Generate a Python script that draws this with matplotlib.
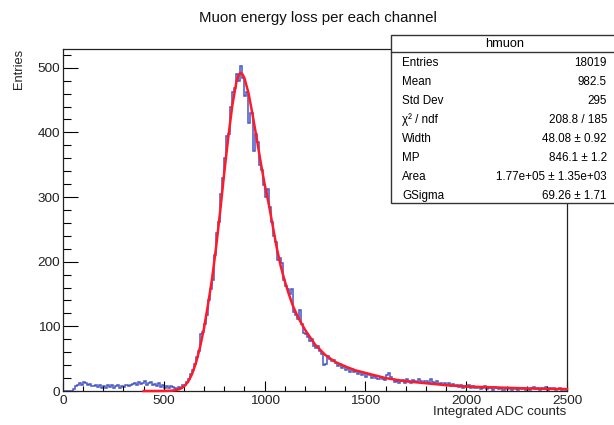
import numpy as np
import matplotlib
matplotlib.use("Agg")
import matplotlib.pyplot as plt
from matplotlib.patches import Rectangle
from matplotlib.lines import Line2D

plt.rcParams['font.family'] = ['Liberation Sans', 'DejaVu Sans']

# ---------------- data ----------------
x_min, x_max, bin_width = 0, 2500, 10
counts = [
    # 0 - 500
    0, 0, 0, 0, 0, 3, 8, 10, 12, 9,
    14, 12, 9, 11, 8, 7, 10, 6, 9, 5,
    8, 4, 9, 6, 10, 5, 7, 9, 4, 8,
    6, 10, 7, 9, 11, 12, 9, 14, 11, 13,
    15, 10, 12, 14, 9, 11, 7, 13, 6, 9,
    # 500 - 1000
    5, 8, 4, 7, 6, 4, 3, 6, 5, 9,
    10, 14, 19, 26, 33, 42, 52, 62, 88, 92,
    104, 118, 140, 158, 172, 210, 244, 262, 305, 330,
    360, 395, 398, 440, 462, 468, 490, 480, 503, 484,
    456, 462, 415, 430, 372, 398, 385, 350, 342, 318,
    # 1000 - 1500
    300, 312, 285, 262, 240, 230, 202, 205, 198, 172,
    162, 158, 150, 158, 122, 118, 112, 125, 104, 90,
    88, 84, 78, 80, 70, 66, 70, 62, 58, 40,
    42, 54, 50, 46, 48, 44, 38, 42, 36, 39,
    33, 36, 30, 34, 29, 31, 26, 30, 25, 28,
    # 1500 - 2000
    22, 27, 24, 20, 23, 20, 18, 22, 19, 17,
    25, 28, 22, 18, 14, 16, 12, 15, 17, 13,
    18, 16, 13, 17, 15, 14, 19, 15, 12, 16,
    15, 13, 18, 14, 12, 16, 11, 13, 9, 12,
    10, 12, 8, 11, 7, 9, 6, 10, 5, 8,
    # 2000 - 2500
    6, 9, 4, 7, 5, 4, 6, 3, 5, 7,
    3, 5, 4, 2, 6, 4, 3, 5, 2, 4,
    3, 5, 2, 4, 3, 2, 4, 3, 5, 2,
    3, 2, 4, 6, 3, 5, 2, 4, 3, 6,
    2, 4, 3, 5, 2, 3, 4, 2, 3, 1,
]

fit_x = [400, 450, 500, 540, 560, 580, 600, 620, 640, 660, 680, 700, 720, 740,
         760, 780, 800, 820, 840, 860, 870, 880, 890, 900, 920, 940, 960, 980,
         1000, 1020, 1040, 1060, 1080, 1100, 1120, 1140, 1160, 1180, 1200, 1250,
         1300, 1350, 1400, 1450, 1500, 1600, 1700, 1800, 1900, 2000, 2100, 2200,
         2300, 2400, 2500]
fit_y = [0, 0, 0.1, 0.5, 1.5, 3, 7, 14, 26, 44, 68, 98, 135, 175,
         224, 279, 338, 393, 442, 478, 488, 492, 490, 484, 461, 428, 392, 355,
         320, 290, 256, 222, 193, 170, 150, 132, 118, 106, 95, 72,
         56, 45, 38, 32, 28, 20, 15, 12, 9, 7, 6, 5,
         4, 3.3, 3]

title = "Muon energy loss per each channel"
x_label = "Integrated ADC counts"
y_label = "Entries"
stats_name = "hmuon"
stat_labels = ["Entries", "Mean", "Std Dev", "\u03c7\u00b2 / ndf", "Width", "MP", "Area", "GSigma"]
stat_values = ["18019", "982.5", "295", "208.8 / 185", "48.08 \u00b1 0.92",
               "846.1 \u00b1 1.2", "1.77e+05 \u00b1 1.35e+03", "69.26 \u00b1 1.71"]
x_ticks = [0, 500, 1000, 1500, 2000, 2500]
y_ticks = [0, 100, 200, 300, 400, 500]

# ---------------- figure ----------------
W, H = 614, 425
fig = plt.figure(figsize=(W / 100, H / 100), dpi=100)

def fx(px):
    return px / W

def fy(py):
    return 1 - py / H

ax_l, ax_r, ax_t, ax_b = 63, 567, 49, 391
ax = fig.add_axes([fx(ax_l), fy(ax_b), fx(ax_r - ax_l), (ax_b - ax_t) / H])

edges = np.arange(x_min, x_max + bin_width, bin_width)
ax.stairs(counts, edges, color='#4656c6', lw=1.1, baseline=None)
ax.plot(fit_x, fit_y, color='#ff1a2a', lw=1.8, clip_on=False, zorder=3)

ax.set_xlim(x_min, x_max)
ax.set_ylim(0, 529)
ax.set_xticks(x_ticks)
ax.set_yticks(y_ticks)
ax.set_xticks(np.arange(0, 2501, 100), minor=True)
ax.set_yticks(np.arange(0, 521, 20), minor=True)
ax.tick_params(axis='x', which='major', direction='in', length=7.4, width=0.8,
               labelsize=9.7, pad=3, top=False, labelcolor='#222222')
ax.tick_params(axis='x', which='minor', direction='in', length=3.7, width=0.8, top=False)
ax.tick_params(axis='y', which='major', direction='in', length=11, width=0.8,
               labelsize=9.7, pad=2, right=False, labelcolor='#222222')
ax.tick_params(axis='y', which='minor', direction='in', length=5.5, width=0.8, right=False)
for s in ax.spines.values():
    s.set_linewidth(0.9)
    s.set_color('#222222')

# axis titles (ROOT style: right/top aligned)
fig.text(fx(566), fy(412), x_label, ha='right', va='center', fontsize=9.5, color='#222222')
fig.text(fx(19), fy(49), y_label, ha='center', va='top', rotation=90, fontsize=9.3, color='#222222')

# title
fig.text(fx(318), fy(18), title, ha='center', va='center', fontsize=10.8, color='#111111')

# stats box
bx_l, bx_t, bx_r, bx_b = 391, 35, 622, 203
fig.patches.append(Rectangle((fx(bx_l), fy(bx_b)), fx(bx_r - bx_l), (bx_b - bx_t) / H,
                             transform=fig.transFigure, facecolor='white',
                             edgecolor='#333333', lw=1.0, zorder=5))
fig.lines.append(Line2D([fx(bx_l), fx(bx_r)], [fy(52), fy(52)], transform=fig.transFigure,
                        color='#333333', lw=1.0, zorder=6))
fig.text(fx(505), fy(44), stats_name, ha='center', va='center', fontsize=9.2, zorder=7)
row_y = [63, 82, 101, 120, 139, 158, 177, 196]
for lab, val, yy in zip(stat_labels, stat_values, row_y):
    fig.text(fx(402), fy(yy), lab, ha='left', va='center', fontsize=8.4, zorder=7)
    fig.text(fx(607), fy(yy), val, ha='right', va='center', fontsize=8.4, zorder=7)

fig.savefig("out.png", dpi=100)
